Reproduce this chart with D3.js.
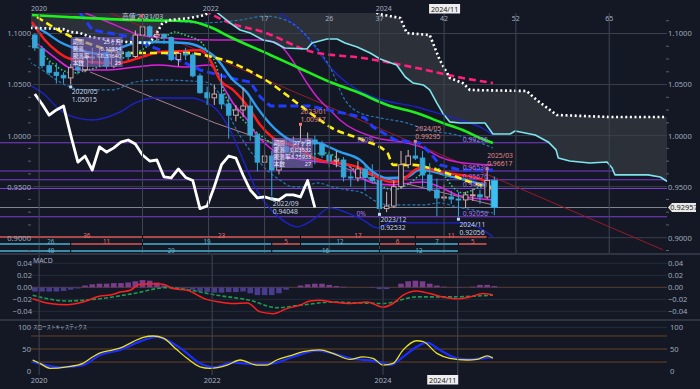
<!DOCTYPE html>
<html><head><meta charset="utf-8">
<script src="https://cdn.jsdelivr.net/npm/d3@7"></script>
<style>
body{margin:0;background:#131824;overflow:hidden}
svg{display:block}
text{font-family:"Noto Sans","Noto Sans CJK JP",sans-serif}
</style></head>
<body><svg id="c" width="700" height="389"></svg>
<script>
// ---------------- DATA ----------------
// monthly candles, first = 2019/12 (month index -1; 0 = 2020/01)
const firstMonthIndex = -1;
const open  = [1.0985,1.0850,1.0685,1.0620,1.0590,1.0565,1.0665,1.0645,1.0760,1.0770,1.0800,1.0680,1.0820,1.0815,1.0775,1.0985,1.1065,1.0975,1.0990,1.0960,1.0745,1.0805,1.0790,1.0585,1.0420,1.0370,1.0407,1.0310,1.0200,1.0251,1.0290,1.0005,0.9740,0.9800,0.9663,0.9890,0.9839,0.9880,0.9937,0.9957,0.9918,0.9810,0.9751,0.9761,0.9595,0.9585,0.9673,0.9590,0.9560,0.9285,0.9310,0.9500,0.9715,0.9800,0.9780,0.9614,0.9467,0.9389,0.9399,0.9379,0.9370,0.9420,0.9420,0.9399,0.9560];
const high  = [1.1000,1.0880,1.0725,1.0710,1.0620,1.0700,1.0810,1.0830,1.0860,1.0860,1.0830,1.0860,1.0900,1.0830,1.1030,1.1152,1.1080,1.1030,1.1000,1.0970,1.0820,1.0860,1.0810,1.0610,1.0480,1.0500,1.0610,1.0400,1.0300,1.0470,1.0380,1.0030,0.9860,0.9850,0.9930,0.9980,0.9990,1.00957,1.0030,1.0000,0.9950,0.9850,0.9850,0.9790,0.9660,0.9750,0.9720,0.9720,0.9600,0.9450,0.9560,0.9850,0.9860,0.99295,0.9850,0.9730,0.9580,0.9520,0.9460,0.9450,0.9450,0.9480,0.9470,0.96617,0.9600];
const low   = [1.0830,1.0660,1.0590,1.0510,1.0510,1.05015,1.0600,1.0620,1.0700,1.0680,1.0650,1.0660,1.0750,1.0740,1.0760,1.0950,1.0960,1.0925,1.0900,1.0730,1.0680,1.0740,1.0570,1.0410,1.0300,1.0300,1.0260,0.9970,1.0140,1.0180,0.9950,0.9650,0.9580,0.94048,0.9620,0.9780,0.9780,0.9800,0.9850,0.9720,0.9780,0.9690,0.9690,0.9550,0.9500,0.9550,0.9460,0.9530,0.92532,0.9250,0.9290,0.9480,0.9680,0.9760,0.9500,0.9450,0.9210,0.9360,0.9330,0.92056,0.9290,0.9360,0.9330,0.9380,0.9220];
const close = [1.0860,1.0685,1.0620,1.0590,1.0565,1.0665,1.0645,1.0760,1.0770,1.0800,1.0680,1.0820,1.0815,1.0775,1.0985,1.1065,1.0975,1.0990,1.0960,1.0745,1.0805,1.0790,1.0585,1.0420,1.0370,1.0407,1.0310,1.0200,1.0251,1.0290,1.0005,0.9740,0.9800,0.9663,0.9890,0.9839,0.9880,0.9937,0.9957,0.9918,0.9810,0.9751,0.9761,0.9595,0.9585,0.9673,0.9590,0.9560,0.9285,0.9310,0.9500,0.9715,0.9800,0.9780,0.9614,0.9467,0.9389,0.9399,0.9379,0.9370,0.9420,0.9420,0.9399,0.9560,0.92957];
const chikouShift = 25;

// indicator lines: [month index, value]
const spanA = [[-1.6,1.1054],[-1.0,1.1054],[2.9,1.1044],[3.9,1.1015],[5.3,1.1005],[6.7,1.0966],[9.5,1.0936],[11.6,1.0917],[15.0,1.0907],[16.0,1.1005],[16.7,1.1093],[17.8,1.1132],[20.6,1.1152],[22.7,1.1181],[24.1,1.125],[45.7,1.125],[46.9,1.1191],[49.9,1.1152],[50.8,1.1005],[54.0,1.0985],[55.4,1.0741],[56.8,1.0564],[58.6,1.0515],[59.6,1.0447],[67.5,1.0437],[68.9,1.0349],[71.7,1.0202],[79.1,1.0182],[87.0,1.0182]];
const spanB = [[-1.6,1.135],[22.7,1.130],[26.2,1.1103],[27.6,1.1034],[29.0,1.1005],[30.8,1.0936],[32.2,1.0917],[33.8,1.0858],[36.9,1.0848],[37.6,1.0907],[39.7,1.0946],[41.1,1.0946],[42.2,1.0907],[43.9,1.0868],[45.7,1.0809],[47.1,1.0750],[49.4,1.0692],[50.6,1.0574],[51.7,1.0515],[53.1,1.0496],[54.0,1.0447],[55.0,1.0319],[55.8,1.0222],[56.8,1.0134],[58.2,1.0124],[61.7,1.0124],[62.8,1.0016],[65.2,1.0016],[65.9,1.0045],[68.7,1.0006],[70.5,0.9938],[71.6,0.9860],[71.9,0.9781],[73.5,0.9752],[76.3,0.9732],[78.7,0.9742],[79.4,0.9683],[79.8,0.9615],[84.4,0.9615],[86.1,0.9595],[87.2,0.9546]];
const ma60 = [[-1.4,1.1181],[3.5,1.1162],[12.7,1.1132],[20.2,1.1122],[23.4,1.1064],[26.2,1.0966],[31.8,1.0790],[35.5,1.0672],[40.1,1.0525],[43.9,1.0427],[48.1,1.0300],[52.2,1.0222],[55.8,1.0124],[58.6,1.0055],[61.0,0.9977],[62.8,0.9928]];
const pinkDash = [[21.3,1.1279],[26.2,1.1103],[30.8,1.1015],[37.7,1.0819],[44.7,1.0760],[52.2,1.0662],[58.6,1.0564],[62.8,1.0515]];
const yellowDash = [[-0.7,1.1162],[3.6,1.0985],[6.7,1.0897],[11.6,1.0809],[20.2,1.0809],[23.7,1.0770],[26.2,1.0721],[28.6,1.0643],[31.8,1.0515],[35.5,1.0320],[38.7,1.0153],[40.1,1.0085],[44.7,0.9957],[48.1,0.9830],[48.9,0.9713],[51.7,0.9713],[54.0,0.9683],[57.8,0.9595],[59.6,0.9546],[62.0,0.9497],[62.8,0.9487]];
const blueDash = [[5.3,1.1201],[7.0,1.1034],[11.6,1.0976],[16.4,1.0839],[18.5,1.0760],[22.0,1.0643],[26.2,1.0564],[29.0,1.0525],[30.4,1.0378],[31.8,1.0290],[37.3,1.0290],[42.5,1.0212],[45.0,1.0173],[46.1,1.0085],[49.2,0.9957],[52.6,0.9928],[54.3,0.9811],[55.4,0.9713],[58.2,0.9664],[62.8,0.9664]];
const redLine = [[-1.4,1.1113],[0.4,1.0936],[2.2,1.0819],[3.6,1.0760],[6.7,1.0721],[10.6,1.0711],[13.9,1.0770],[16.4,1.0819],[19.9,1.0829],[22.0,1.0838],[23.4,1.0741],[24.8,1.0545],[26.6,1.0447],[29.0,1.0251],[30.4,1.0104],[32.2,0.9977],[35.9,0.9879],[38.3,0.9762],[41.5,0.9732],[44.3,0.9683],[46.1,0.9615],[48.5,0.9546],[49.9,0.9556],[52.6,0.9683],[56.4,0.9634],[61.4,0.9566],[62.8,0.9448]];
const lightBlue = [[-1.4,1.1083],[0.4,1.1015],[2.5,1.0917],[5.3,1.0839],[8.1,1.0799],[10.2,1.0839],[13.0,1.0907],[15.5,1.0917],[19.9,1.0907],[22.3,1.0858],[24.1,1.0770],[26.6,1.0545],[28.6,1.0418],[29.9,1.0281],[31.3,1.0153],[33.1,1.0026],[35.9,0.9928],[37.7,0.9938],[41.5,0.9840],[44.3,0.9762],[46.1,0.9644],[48.0,0.9585],[50.8,0.9595],[52.6,0.9664],[57.2,0.9595],[60.0,0.9546],[62.8,0.9497]];
const magentaUp = [[6.0,1.1201],[9.5,1.1103],[11.8,1.1034],[13.6,1.0985],[17.1,1.0956],[24.1,1.0936],[30.8,1.0936],[32.7,1.0907],[33.8,1.0839],[35.5,1.0672],[36.9,1.0515],[38.3,1.0378],[40.1,1.0251],[41.5,1.0153],[46.1,0.9987],[50.8,0.9928],[53.1,0.9879],[55.4,0.9791],[57.8,0.9742],[62.8,0.9713]];
const magentaLow = [[-1.0,1.0917],[0.4,1.0839],[2.2,1.0741],[3.6,1.0672],[5.0,1.0643],[9.2,1.0643],[13.0,1.0672],[16.2,1.0692],[19.9,1.0672],[23.4,1.0692],[25.5,1.0447],[26.6,1.0320],[28.6,1.0153],[29.9,1.0006],[31.3,0.9908],[32.7,0.9830],[34.9,0.9781],[38.7,0.9742],[42.5,0.9713],[43.9,0.9615],[46.1,0.9537],[48.5,0.9517],[53.1,0.9546],[55.4,0.9497],[57.8,0.9419],[62.8,0.9370]];
const bandLow = [[-1.7,1.0496],[0.4,1.0398],[2.2,1.0271],[3.6,1.0202],[7.0,1.0153],[10.6,1.0222],[13.0,1.0320],[15.5,1.0369],[20.9,1.0369],[22.7,1.0330],[24.1,1.0271],[26.2,1.0055],[28.0,0.9762],[29.9,0.9468],[31.3,0.9321],[33.1,0.9194],[35.5,0.9106],[37.7,0.9174],[40.1,0.9292],[42.5,0.9243],[44.7,0.9174],[46.7,0.9096],[48.9,0.9155],[51.7,0.9145],[57.8,0.9145],[60.0,0.9125],[62.8,0.9008]];
const bandUp = [[33.1,1.1201],[36.4,1.1005],[38.3,1.0839],[40.1,1.0672],[42.5,1.0515],[46.1,1.0378],[52.2,1.0280],[55.0,1.0222],[58.2,1.0153],[61.0,1.0085],[62.8,1.0006]];
const steelUp = [[12.3,1.1191],[16.4,1.1142],[22.0,1.1103],[27.6,1.1132],[31.1,1.1171],[34.5,1.1113],[37.7,1.0907],[40.1,1.0672],[42.2,1.0349],[44.3,1.0222],[47.1,1.0173],[50.8,1.0124],[53.6,1.0055],[57.8,1.0006],[62.8,0.9879]];
const steelLow = [[-2.4,1.0741],[-0.6,1.0672],[1.4,1.0574],[3.2,1.0496],[6.0,1.0447],[9.7,1.0447],[13.0,1.0525],[16.2,1.0545],[22.7,1.0525],[24.1,1.0467],[25.5,1.0300],[26.6,1.0124],[28.6,0.9889],[30.4,0.9732],[31.3,0.9664],[33.1,0.9566],[35.0,0.9497],[36.4,0.9497],[38.3,0.9537],[40.5,0.9497],[42.5,0.9468],[44.3,0.9448],[46.7,0.9350],[48.5,0.9321],[53.1,0.9321],[55.4,0.9341],[57.8,0.9301],[60.0,0.9272],[62.8,0.9243]];
const greenDot = [[-1.4,1.0956],[0.0,1.0809],[1.4,1.0711],[2.8,1.0643],[4.2,1.0613],[6.4,1.0643],[11.6,1.0770],[13.9,1.0839],[15.3,1.0907],[17.1,1.0966],[18.5,1.1015],[19.9,1.0985],[22.3,1.0907],[23.1,1.0809],[24.1,1.0721],[24.8,1.0545],[25.8,1.0349],[28.0,1.0153],[29.0,1.0085],[31.3,0.9957],[33.6,0.9860],[35.9,0.9811],[39.7,0.9830],[41.5,0.9762],[42.9,0.9693],[45.3,0.9595],[47.5,0.9497],[48.9,0.9468],[50.8,0.9517],[53.1,0.9634],[55.0,0.9683],[55.8,0.9634],[57.2,0.9497],[58.6,0.9439],[61.4,0.9497],[62.8,0.9497]];
const trendRed = [[9.5,1.1201],[86.5,0.8881]];
const trendPink = [[6.7,1.0623],[24.1,1.0124],[42.9,0.9664],[62.8,0.9321]];

// Fibonacci retracement
const fibLevels = [0.99295,0.96530,0.95676,0.94821,0.92056];
const fibText = ["0.99295","0.96530","0.95676","0.94821","0.92056"];
const lastPrice = 0.92957;

// pivots
const lowPivots  = [{m:4,d:"2020/05",v:1.05015},{m:32,d:"2022/09",v:0.94048},{m:47,d:"2023/12",v:0.92532},{m:58,d:"2024/11",v:0.92056}];
const highPivots = [{m:36,d:"2023/01",v:1.00957},{m:52,d:"2024/05",v:0.99295},{m:62,d:"2025/03",v:0.96617}];
const topHigh = {m:14,d:"2021/03",v:1.1152};

// cycle count rows
const rowA = {piv:[-21,14,36,52,62], lab:["36","23","17","11"]};
const rowB = {piv:[-21,4,14,32,36,47,52,58,62], lab:["26","11","19","5","12","6","7","5"]};
const rowC = {piv:[-43,4,32,47,58], lab:["48","29","16","12"]};
const highSet = new Set([-21,14,36,52,62]);

// info boxes
const boxes = [
  {m:4, top:1.0966, w:52, rows:[["期間","25ヶ月"],["騰落","0.10834"],["騰落率","10.31640"],["本数","25"]]},
  {m:32, top:0.9977, w:41, rows:[["期間","27ヶ月"],["騰落","0.03532"],["騰落率","3.75933"],["本数","27"]]}
];

// MACD (month -1 .. 63)
const macdHist = [-0.007,-0.007,-0.007,-0.007,-0.006,-0.004,-0.002,0.003,0.005,0.006,0.006,0.007,0.007,0.008,0.010,0.012,0.011,0.008,0.003,-0.001,-0.002,-0.002,-0.004,-0.007,-0.008,-0.009,-0.009,-0.008,-0.008,-0.007,-0.010,-0.013,-0.013,-0.013,-0.010,-0.004,0.000,0.003,0.005,0.006,0.006,0.004,0.002,0.001,0.000,0.000,0.000,-0.001,-0.003,-0.003,0.000,0.006,0.010,0.011,0.010,0.006,0.003,0.001,0.000,-0.001,0.000,0.001,0.004,0.004,0.002];
const macdLine = [[-1.3,-0.019],[1.1,-0.027],[3.5,-0.029],[5.7,-0.0245],[8.1,-0.0145],[9.5,-0.013],[10.9,-0.008],[12.3,-0.005],[13.6,0.005],[15.5,0.006],[16.9,0.005],[18.2,-0.002],[20.2,-0.005],[23.0,-0.0205],[24.8,-0.0245],[26.6,-0.027],[28.6,-0.026],[30.4,-0.041],[32.2,-0.044],[34.1,-0.0355],[35.9,-0.030],[37.3,-0.023],[38.7,-0.0215],[40.5,-0.0245],[42.9,-0.027],[45.3,-0.0245],[47.5,-0.033],[48.9,-0.027],[50.3,-0.013],[52.2,-0.006],[54.0,-0.0105],[55.8,-0.016],[57.8,-0.019],[59.6,-0.016],[61.4,-0.0105],[62.8,-0.013]];
const macdSignal = [[-1.3,-0.0133],[3.5,-0.0228],[8.1,-0.019],[12.7,-0.0105],[17.4,-0.0005],[20.2,-0.004],[24.4,-0.0133],[29.0,-0.0217],[32.7,-0.034],[35.9,-0.030],[40.5,-0.0245],[42.9,-0.0255],[47.5,-0.027],[52.2,-0.016],[56.8,-0.016],[62.8,-0.013]];

// Slow stochastics
const stochK = [[-1.3,24.7],[-0.3,17],[1.1,5.5],[3.5,9],[5.7,17],[7.1,32],[8.1,41],[9.9,48],[11.3,55],[12.7,67],[14.1,77],[15.5,80],[16.9,75],[18.8,48],[20.2,28.6],[22.0,9],[23.4,5.5],[25.8,13],[27.6,24.7],[29.9,13],[31.3,13],[32.7,24.7],[34.5,34],[36.4,44],[38.7,48],[40.5,40],[42.9,26],[44.7,32],[46.1,28.6],[47.5,13],[48.9,17],[50.3,48],[52.2,69],[53.1,67],[55.0,40],[56.8,28.6],[59.2,24.7],[60.6,26],[62.0,34],[62.8,28.6]];
const stochD = [[-1.3,21],[2.5,8],[5.7,13],[8.1,36],[10.9,48],[13.6,67],[16.0,78],[17.4,71],[19.6,48],[22.0,17],[23.8,8],[26.6,18.5],[29.4,15],[32.2,17],[35.0,32],[38.3,46],[40.5,40],[42.9,28.6],[46.7,21],[48.5,13],[50.3,32],[52.2,55],[53.6,64.5],[55.4,48],[57.8,28.6],[59.6,26],[61.4,28.6],[62.8,31]];

// axis / time labels
const mainTicks = [0.90,0.95,1.00,1.05,1.10];
const minorTicks = d3.range(0.8875,1.1201,0.0125).filter(v=>Math.abs(v*20-Math.round(v*20))>1e-6);
const macdTicks = [-0.04,-0.02,0,0.02,0.04];
const stochTicks = [0,50,100];
const mainVLines = [-0.4,14,23.2,31,40,47,56,66,79];
const topYears = [["2020",-0.4],["2022",23.5],["2024",47.6]];
const topCounts = [["17",31],["26",40],["37",47],["42",56],["52",66],["65",79]];
const bottomYears = [["2020",-0.4],["2022",23.7],["2024",47.5]];
const currentMonthLabel = "2024/11";
const currentMonth = 57.9;

// ---------------- DRAW ----------------
const BG = "#131824";
const svg = d3.select("#c");
svg.append("rect").attr("width",700).attr("height",389).attr("fill",BG);

const x  = d3.scaleLinear().domain([0,63]).range([42,494.34]);
const y  = d3.scaleLinear().domain([0.9,1.1]).range([237.7,33.5]);
const yM = d3.scaleLinear().domain([-0.04,0.04]).range([311.3,263.3]);
const yS = d3.scaleLinear().domain([0,100]).range([370.7,327.3]);

const defs = svg.append("defs");
defs.append("clipPath").attr("id","cMain").append("rect").attr("x",31).attr("y",13).attr("width",636).attr("height",240);
defs.append("clipPath").attr("id","cMainWide").append("rect").attr("x",0).attr("y",13).attr("width",667).attr("height",240);
defs.append("clipPath").attr("id","cMacd").append("rect").attr("x",31).attr("y",255).attr("width",636).attr("height",64);
defs.append("clipPath").attr("id","cSto").append("rect").attr("x",31).attr("y",321).attr("width",636).attr("height",54);

const line = ys => d3.line().x(d=>x(d[0])).y(d=>ys(d[1]));
function drawLine(g,data,ys,color,w,dash,curve){
  return g.append("path").datum(data).attr("d",line(ys).curve(curve||d3.curveMonotoneX))
    .attr("fill","none").attr("stroke",color).attr("stroke-width",w)
    .attr("stroke-dasharray",dash||null).attr("stroke-linejoin","round");
}

const gWide = svg.append("g").attr("clip-path","url(#cMainWide)");
const gMain = svg.append("g").attr("clip-path","url(#cMain)");

// cloud
const cloudPoly = spanA.concat(spanB.slice().reverse());
gMain.append("path").attr("d",line(y)(cloudPoly)+"Z").attr("fill","#2c3039").attr("stroke","none");

// grid
gMain.selectAll("line.hg").data(mainTicks).join("line").attr("class","hg")
  .attr("x1",33).attr("x2",667).attr("y1",d=>y(d)).attr("y2",d=>y(d)).attr("stroke","#3a404c").attr("stroke-width",1);
svg.selectAll("line.vg").data(mainVLines).join("line").attr("class","vg")
  .attr("x1",d=>x(d)).attr("x2",d=>x(d)).attr("y1",13).attr("y2",253).attr("stroke","#3f4652").attr("stroke-width",1);

// fib lines
gWide.selectAll("line.fib").data(fibLevels).join("line").attr("class","fib")
  .attr("x1",0).attr("x2",667).attr("y1",d=>y(d)).attr("y2",d=>y(d)).attr("stroke","#7d3ed0").attr("stroke-width",1.1);
gWide.append("line").attr("x1",0).attr("x2",667).attr("y1",y(lastPrice)).attr("y2",y(lastPrice)).attr("stroke","#80858f").attr("stroke-width",1);

// trend & band lines
drawLine(gMain,trendRed,y,"#9a1a2a",1,null,d3.curveLinear);
drawLine(gMain,trendPink,y,"#c08a98",0.9,null,d3.curveLinear);
drawLine(gMain,bandLow,y,"#1d22c8",1.4);
drawLine(gMain,bandUp,y,"#1d22c8",1.4);
drawLine(gMain,steelUp,y,"#2a76b4",1.2,"3,2");
drawLine(gMain,steelLow,y,"#2a76b4",1.2,"3,2");
drawLine(gMain,magentaUp,y,"#cf1fd0",1.5);
drawLine(gMain,magentaLow,y,"#e021e0",1.6);
drawLine(gMain,greenDot,y,"#2fcf6c",1.6,"1.6,2");
drawLine(gMain,blueDash,y,"#1f3cff",3,"8,4",d3.curveLinear);
drawLine(gMain,lightBlue,y,"#2e9cf0",2.4);
drawLine(gMain,redLine,y,"#ff1b1b",2.5);
drawLine(gMain,yellowDash,y,"#ffee10",2.6,"7,4");
drawLine(gMain,pinkDash,y,"#ff1f7c",2.6,"7,4");
drawLine(gMain,ma60,y,"#1df01d",2.6);
drawLine(gMain,spanB,y,"#7fe4ec",1.6,null,d3.curveLinear);
drawLine(gMain,spanA,y,"#ffffff",2.6,"2,2.6",d3.curveLinear);

// candles
const candles = open.map((o,k)=>({m:k+firstMonthIndex,o,h:high[k],l:low[k],c:close[k]}));
const gC = gMain.append("g");
const last = candles.length-1;
gC.selectAll("line.wick").data(candles).join("line").attr("class","wick")
  .attr("x1",d=>x(d.m)).attr("x2",d=>x(d.m)).attr("y1",d=>y(d.h)).attr("y2",d=>y(d.l))
  .attr("stroke",d=>d.c>=d.o?"#d9b2b2":"#35a6d8").attr("stroke-width",1);
gC.selectAll("rect.body").data(candles).join("rect").attr("class","body")
  .attr("x",(d,i)=>x(d.m)-(i===last?3.2:2.3)).attr("width",(d,i)=>i===last?6.4:4.6)
  .attr("y",d=>y(Math.max(d.o,d.c))).attr("height",d=>Math.max(1,Math.abs(y(d.o)-y(d.c))))
  .attr("fill",(d,i)=>d.c>=d.o?BG:(i===last?"#3cc0f2":"#35a6d8"))
  .attr("stroke",d=>d.c>=d.o?"#d9b2b2":"#35a6d8").attr("stroke-width",0.9);

// chikou (close shifted back)
const chikou = close.map((c,k)=>[k+firstMonthIndex-chikouShift,c]).filter(d=>d[0]>=-1.01);
drawLine(gMain,chikou,y,"#ffffff",2.8,null,d3.curveLinear);

// pivot markers & labels
const fs = 6.8;
lowPivots.forEach(p=>{
  svg.append("rect").attr("x",x(p.m)-1.5).attr("y",y(p.v)+1).attr("width",3).attr("height",3).attr("fill","#bcdcf2");
  svg.append("text").attr("x",x(p.m)+1).attr("y",y(p.v)+10).attr("font-size",fs).attr("fill","#c9d2e2").text(p.d);
  svg.append("text").attr("x",x(p.m)+1).attr("y",y(p.v)+18).attr("font-size",fs).attr("fill","#c9d2e2").text(p.v.toFixed(5));
});
highPivots.forEach(p=>{
  svg.append("rect").attr("x",x(p.m)-1.5).attr("y",y(p.v)-3).attr("width",3).attr("height",3).attr("fill","#f07a7a");
  svg.append("text").attr("x",x(p.m)).attr("y",y(p.v)-12).attr("font-size",fs).attr("fill","#e08888").text(p.d);
  svg.append("text").attr("x",x(p.m)).attr("y",y(p.v)-4).attr("font-size",fs).attr("fill","#e08888").text(p.v.toFixed(5));
});
svg.append("text").attr("x",x(topHigh.m)).attr("y",y(topHigh.v)+1).attr("text-anchor","middle").attr("font-size",fs)
  .attr("fill","#c4ccdc").text("高値 "+topHigh.d);
svg.append("circle").attr("cx",x(topHigh.m)-1).attr("cy",y(topHigh.v)-2).attr("r",1.8).attr("fill","#f05a5a");

// fib labels
fibLevels.forEach((v,i)=>{
  svg.append("text").attr("x",x(58.6)).attr("y",y(v)-1).attr("font-size",fs).attr("fill","#a674ee").text(fibText[i]);
});
svg.append("text").attr("x",x(43.8)).attr("y",y(fibLevels[0])-1).attr("font-size",fs).attr("fill","#a674ee").text("100%");
svg.append("text").attr("x",x(43.8)).attr("y",y(fibLevels[4])-1).attr("font-size",fs).attr("fill","#a674ee").text("0%");

// info boxes
boxes.forEach(b=>{
  const bx = x(b.m), by = y(b.top);
  const g = svg.append("g");
  g.append("rect").attr("x",bx).attr("y",by).attr("width",b.w).attr("height",30).attr("fill","rgba(128,108,196,0.62)");
  b.rows.forEach((r,i)=>{
    g.append("text").attr("x",bx+2).attr("y",by+6.6+i*7.3).attr("font-size",5.6).attr("fill","#eeeaff").text(r[0]);
    g.append("text").attr("x",bx+b.w-1.5).attr("y",by+6.6+i*7.3).attr("font-size",5.6).attr("text-anchor","end").attr("fill","#eeeaff").text(r[1]);
  });
});

// cycle rows
function drawRow(row,ry,dy,colorFn){
  const g = svg.append("g");
  for(let i=0;i<row.lab.length;i++){
    const a=row.piv[i], b=row.piv[i+1];
    const col = colorFn(a,b);
    const x0 = Math.max(0,x(a)), x1 = x(b);
    g.append("line").attr("x1",x0).attr("x2",x1).attr("y1",ry).attr("y2",ry).attr("stroke",col.line).attr("stroke-width",2);
    g.append("text").attr("x",(Math.max(31,x(a))+x1)/2).attr("y",ry+dy).attr("text-anchor","middle")
      .attr("font-size",6.2).attr("fill",col.text).text(row.lab[i]);
  }
  row.piv.slice(1).forEach(p=>g.append("line").attr("x1",x(p)).attr("x2",x(p)).attr("y1",ry-2).attr("y2",ry+2).attr("stroke","#0b0e14").attr("stroke-width",1));
}
const RED={line:"#a84848",text:"#e26e6e"}, TEAL={line:"#3b8ba6",text:"#62b6ce"};
drawRow(rowA,237,0.6,()=>RED);
drawRow(rowB,244,0.3,(a,b)=>highSet.has(b)?RED:TEAL);
drawRow(rowC,251,2.4,()=>TEAL);

// separators
[254,320].forEach(v=>svg.append("line").attr("x1",0).attr("x2",700).attr("y1",v).attr("y2",v).attr("stroke","#4a505e").attr("stroke-width",1));

// ---- MACD panel ----
const gM = svg.append("g").attr("clip-path","url(#cMacd)");
gM.selectAll("line.mg").data([-0.04,-0.02,0.02,0.04]).join("line").attr("x1",31).attr("x2",667)
  .attr("y1",d=>yM(d)).attr("y2",d=>yM(d)).attr("stroke","#262d3a");
gM.append("line").attr("x1",31).attr("x2",667).attr("y1",yM(0)).attr("y2",yM(0)).attr("stroke","#5c3c32");
gM.selectAll("rect.h").data(macdHist).join("rect").attr("class","h")
  .attr("x",(d,i)=>x(i+firstMonthIndex)-2.8).attr("width",5.6)
  .attr("y",d=>Math.min(yM(d),yM(0))).attr("height",d=>Math.abs(yM(d)-yM(0)))
  .attr("fill",d=>d>=0?"#7a3d8e":"#473d8c");
drawLine(gM,macdSignal,yM,"#1f9a52",1.6,"4,2");
drawLine(gM,macdLine,yM,"#ff1f1f",1.5);

// ---- Stoch panel ----
const gS = svg.append("g").attr("clip-path","url(#cSto)");
gS.append("line").attr("x1",31).attr("x2",667).attr("y1",yS(100)).attr("y2",yS(100)).attr("stroke","#262d3a");
gS.selectAll("line.sg").data([80,50,20]).join("line").attr("x1",31).attr("x2",667)
  .attr("y1",d=>yS(d)).attr("y2",d=>yS(d)).attr("stroke","#6a4222");
drawLine(gS,stochD,yS,"#1a2cff",2.2);
drawLine(gS,stochK,yS,"#e8e22a",1.3);

// bottom vertical lines
svg.selectAll("line.bv").data(bottomYears.map(d=>d[1]).concat([currentMonth])).join("line").attr("class","bv")
  .attr("x1",d=>x(d)).attr("x2",d=>x(d)).attr("y1",255).attr("y2",375).attr("stroke","#3f4652");

// titles
svg.append("text").attr("x",33).attr("y",263).attr("font-size",6.8).attr("fill","#a9b1c2").text("MACD");
svg.append("text").attr("x",33).attr("y",329).attr("font-size",5.4).attr("fill","#a9b1c2")
  .attr("textLength",54).attr("lengthAdjust","spacingAndGlyphs").text("スローストキャスティクス");

// axes
function styleAxis(g){
  g.select(".domain").remove();
  g.selectAll("text").attr("font-size",7.6).attr("fill","#9ea7b8").attr("font-family","'Noto Sans',sans-serif");
  g.selectAll(".tick line").remove();
}
const fmt4 = d3.format(".4f"), fmt2 = d3.format(".2f");
svg.append("g").attr("transform","translate(31,0)").call(d3.axisLeft(y).tickValues(mainTicks).tickFormat(fmt4).tickSize(0).tickPadding(0)).call(styleAxis);
svg.append("g").attr("transform","translate(668,0)").call(d3.axisRight(y).tickValues(mainTicks).tickFormat(fmt4).tickSize(0).tickPadding(0)).call(styleAxis);
svg.append("g").attr("transform","translate(32,0)").call(d3.axisLeft(yM).tickValues(macdTicks).tickFormat(fmt2).tickSize(0).tickPadding(0)).call(styleAxis);
svg.append("g").attr("transform","translate(668,0)").call(d3.axisRight(yM).tickValues(macdTicks).tickFormat(fmt2).tickSize(0).tickPadding(0)).call(styleAxis);
svg.append("g").attr("transform","translate(31,0)").call(d3.axisLeft(yS).tickValues(stochTicks).tickFormat(d3.format("d")).tickSize(0).tickPadding(0)).call(styleAxis);
svg.append("g").attr("transform","translate(670,0)").call(d3.axisRight(yS).tickValues(stochTicks).tickFormat(d3.format("d")).tickSize(0).tickPadding(0)).call(styleAxis);
// minor ticks
svg.selectAll("line.mt").data(minorTicks).join("line").attr("x1",666).attr("x2",669).attr("y1",d=>y(d)).attr("y2",d=>y(d)).attr("stroke","#5a6070");
svg.selectAll("line.mtl").data(minorTicks.filter(v=>v<1.1)).join("line").attr("x1",28).attr("x2",31).attr("y1",d=>y(d)).attr("y2",d=>y(d)).attr("stroke","#5a6070");

// last price tag
const ly = y(lastPrice);
svg.append("path").attr("d",`M668,${ly} L672,${ly-4.5} L696,${ly-4.5} L696,${ly+4.5} L672,${ly+4.5} Z`).attr("fill","#e9e9e9");
svg.append("text").attr("x",684).attr("y",ly+2.6).attr("text-anchor","middle").attr("font-size",7.4).attr("fill","#222").text(d3.format(".5f")(lastPrice));

// top time labels
topYears.forEach(t=>svg.append("text").attr("x",x(t[1])).attr("y",10.5).attr("text-anchor","middle").attr("font-size",7).attr("fill","#a8b0c0").text(t[0]));
topCounts.forEach(t=>svg.append("text").attr("x",x(t[1])).attr("y",20.5).attr("text-anchor","middle").attr("font-size",7).attr("fill","#a8b0c0").text(t[0]));
function boxLabel(cx,cy,txt){
  svg.append("rect").attr("x",cx-15.5).attr("y",cy-5).attr("width",31).attr("height",9.5).attr("fill","#eeeeee");
  svg.append("text").attr("x",cx).attr("y",cy+2.5).attr("text-anchor","middle").attr("font-size",7.2).attr("fill","#222").text(txt);
}
boxLabel(x(56)+0.5,9,currentMonthLabel);
// bottom labels
bottomYears.forEach(t=>svg.append("text").attr("x",x(t[1])).attr("y",383).attr("text-anchor","middle").attr("font-size",7.4).attr("fill","#a8b0c0").text(t[0]));
boxLabel(x(currentMonth)-15,380,currentMonthLabel);
</script>
</body></html>
